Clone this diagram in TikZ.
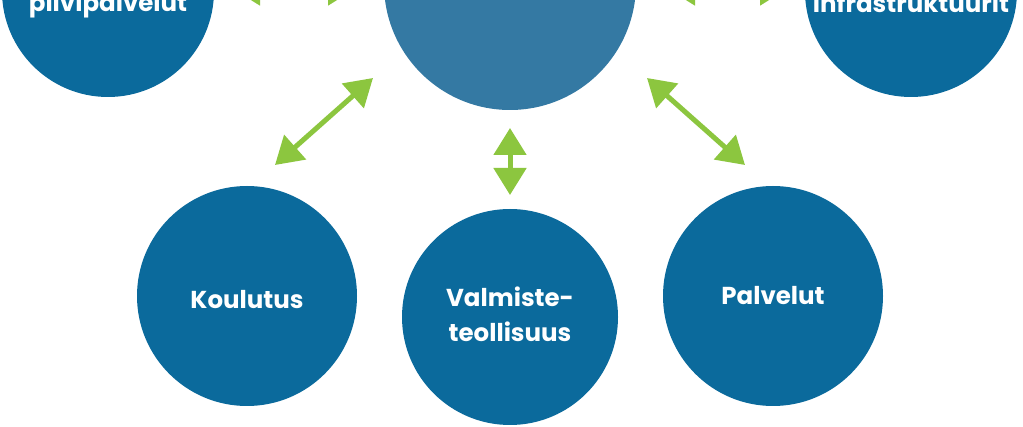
\documentclass[tikz,border=0pt]{standalone}
\usepackage{fontspec}
\setmainfont{Poppins}
\usetikzlibrary{arrows.meta}
\definecolor{satblue}{RGB}{11,106,156}
\definecolor{hubblue}{RGB}{52,121,163}
\definecolor{arrowgreen}{RGB}{140,198,63}
\tikzset{
  sat/.style={circle, fill=satblue, inner sep=0pt, text=white, font=\fontsize{24.5}{35}\selectfont\bfseries, align=center},
  hub/.style={circle, fill=hubblue, inner sep=0pt},
  toptext/.style={text=white, font=\fontsize{24.5}{35}\selectfont\bfseries, anchor=base, inner sep=0pt},
  link/.style={draw=arrowgreen, line width=5pt, {Triangle[width=32pt,length=27pt,fill=arrowgreen]}-{Triangle[width=32pt,length=27pt,fill=arrowgreen]}}
}
\begin{document}
\begin{tikzpicture}[x=1pt,y=-1pt]
\useasboundingbox (0,0) rectangle (1023,427);
\clip (0,0) rectangle (1023,427);
\fill[white] (0,0) rectangle (1023,427);
% circles
\node[hub, minimum size=252pt] (hub) at (510,-16) {};
\node[sat, minimum size=212pt] (cloud) at (108,-9) {};
\node[sat, minimum size=212pt] (infra) at (911,-9) {};
\node[sat, minimum size=220pt] (kou) at (247,296) {\raisebox{-4pt}[\height][\depth]{Koulutus}};
\node[sat, minimum size=216pt] (val) at (510,317) {\raisebox{3pt}[\height][\depth]{Valmiste-}\\\raisebox{3pt}[\height][\depth]{teollisuus}};
\node[sat, minimum size=220pt] (pal) at (773,296) {Palvelut};
\node[toptext] (cloudtext) at (108,12) {pilvipalvelut};
\node[toptext] (infratext) at (911,13) {infrastruktuurit};
% arrow end points
\coordinate (a1) at (233,-11);
\coordinate (a2) at (355,-11);
\coordinate (b1) at (668,-11);
\coordinate (b2) at (787,-11);
\coordinate (c1) at (373,78);
\coordinate (c2) at (275,165);
\coordinate (d1) at (510,128);
\coordinate (d2) at (510,195);
\coordinate (e1) at (647,78);
\coordinate (e2) at (745,165);
\draw[link] (a1) -- (a2);
\draw[link] (b1) -- (b2);
\draw[link] (c1) -- (c2);
\draw[link] (d1) -- (d2);
\draw[link] (e1) -- (e2);
\end{tikzpicture}
\end{document}
